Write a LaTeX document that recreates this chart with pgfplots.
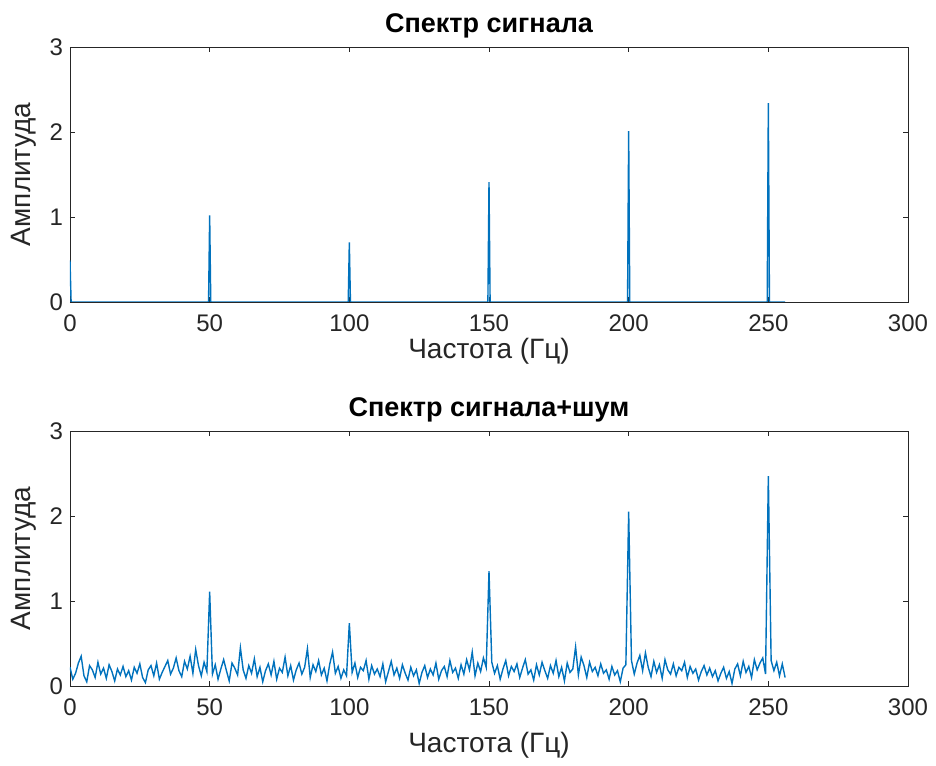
\documentclass[border=0pt]{standalone}
\usepackage{pgfplots}
\pgfplotsset{compat=1.18}
\usepackage{fontspec}
\setmainfont{Liberation Sans}
\definecolor{mblue}{RGB}{0,114,189}
\definecolor{axgray}{RGB}{38,38,38}

\pgfplotsset{spec/.style={
    width=419pt, height=127.5pt, scale only axis,
    xmin=0, xmax=300, ymin=0, ymax=3,
    xtick={0,50,...,300}, ytick={0,1,2,3},
    tick align=inside, major tick length=2.5pt,
    axis line style={axgray}, tick style={axgray},
    ticklabel style={font=\fontsize{12}{14}\selectfont, text=axgray},
    xticklabel style={yshift=-3pt},
    /pgf/number format/assume math mode=true,
    xlabel={Частота (Гц)}, ylabel={Амплитуда},
    label style={font=\fontsize{14}{16}\selectfont, text=axgray},
    title style={font=\bfseries\fontsize{13.5}{15}\selectfont, yshift=-5pt},
}}

\begin{document}
\begin{tikzpicture}
\useasboundingbox (-35pt,-231.5pt) rectangle (433pt,151pt);
\begin{axis}[spec, title={Спектр сигнала}, xlabel style={yshift=4pt}]
\addplot[mblue, line width=0.7pt] coordinates {
 (0,0.49) (0.4,0) (49.6,0) (50,1.02) (50.4,0) (99.6,0) (100,0.70) (100.4,0)
 (149.6,0) (150,1.41) (150.4,0) (199.6,0) (200,2.01) (200.4,0)
 (249.6,0) (250,2.34) (250.4,0) (256,0)
};
\end{axis}
\begin{axis}[spec, yshift=-192pt, title={Спектр сигнала+шум}, xlabel style={yshift=-1pt}]
% 1 Hz bins, 0..256 Hz
\addplot[mblue, line width=0.7pt] coordinates {
(0,0.22)(1,0.08)(2,0.15)(3,0.27)(4,0.35)(5,0.12)(6,0.05)(7,0.24)(8,0.19)(9,0.10)
(10,0.28)(11,0.14)(12,0.21)(13,0.09)(14,0.25)(15,0.17)(16,0.06)(17,0.20)(18,0.13)(19,0.23)
(20,0.11)(21,0.18)(22,0.07)(23,0.22)(24,0.15)(25,0.26)(26,0.10)(27,0.04)(28,0.19)(29,0.24)
(30,0.12)(31,0.27)(32,0.08)(33,0.16)(34,0.23)(35,0.30)(36,0.14)(37,0.21)(38,0.33)(39,0.18)
(40,0.11)(41,0.29)(42,0.20)(43,0.35)(44,0.15)(45,0.43)(46,0.24)(47,0.12)(48,0.28)(49,0.17)
(50,1.11)(51,0.14)(52,0.25)(53,0.08)(54,0.20)(55,0.31)(56,0.18)(57,0.06)(58,0.27)(59,0.21)
(60,0.13)(61,0.45)(62,0.19)(63,0.09)(64,0.24)(65,0.15)(66,0.32)(67,0.11)(68,0.22)(69,0.05)
(70,0.18)(71,0.26)(72,0.13)(73,0.29)(74,0.08)(75,0.21)(76,0.16)(77,0.34)(78,0.12)(79,0.24)
(80,0.07)(81,0.19)(82,0.27)(83,0.14)(84,0.22)(85,0.44)(86,0.10)(87,0.25)(88,0.17)(89,0.30)
(90,0.13)(91,0.21)(92,0.06)(93,0.26)(94,0.40)(95,0.15)(96,0.23)(97,0.09)(98,0.19)(99,0.12)
(100,0.74)(101,0.16)(102,0.27)(103,0.10)(104,0.22)(105,0.18)(106,0.30)(107,0.08)(108,0.24)(109,0.14)
(110,0.20)(111,0.11)(112,0.26)(113,0.05)(114,0.17)(115,0.29)(116,0.13)(117,0.21)(118,0.09)(119,0.25)
(120,0.15)(121,0.07)(122,0.22)(123,0.12)(124,0.19)(125,0.03)(126,0.16)(127,0.24)(128,0.10)(129,0.20)
(130,0.13)(131,0.27)(132,0.08)(133,0.18)(134,0.23)(135,0.11)(136,0.30)(137,0.16)(138,0.21)(139,0.09)
(140,0.25)(141,0.14)(142,0.31)(143,0.19)(144,0.40)(145,0.12)(146,0.27)(147,0.17)(148,0.33)(149,0.22)
(150,1.35)(151,0.28)(152,0.15)(153,0.24)(154,0.08)(155,0.20)(156,0.30)(157,0.12)(158,0.23)(159,0.17)
(160,0.26)(161,0.10)(162,0.21)(163,0.31)(164,0.14)(165,0.19)(166,0.07)(167,0.25)(168,0.13)(169,0.28)
(170,0.18)(171,0.09)(172,0.24)(173,0.15)(174,0.30)(175,0.11)(176,0.22)(177,0.06)(178,0.27)(179,0.16)
(180,0.20)(181,0.46)(182,0.13)(183,0.34)(184,0.24)(185,0.10)(186,0.28)(187,0.17)(188,0.22)(189,0.12)
(190,0.26)(191,0.15)(192,0.19)(193,0.08)(194,0.23)(195,0.13)(196,0.18)(197,0.05)(198,0.21)(199,0.25)
(200,2.05)(201,0.30)(202,0.14)(203,0.27)(204,0.36)(205,0.18)(206,0.39)(207,0.22)(208,0.11)(209,0.29)
(210,0.16)(211,0.25)(212,0.09)(213,0.31)(214,0.19)(215,0.14)(216,0.26)(217,0.12)(218,0.22)(219,0.18)
(220,0.28)(221,0.10)(222,0.23)(223,0.15)(224,0.20)(225,0.07)(226,0.17)(227,0.24)(228,0.13)(229,0.21)
(230,0.11)(231,0.18)(232,0.06)(233,0.15)(234,0.22)(235,0.09)(236,0.17)(237,0.03)(238,0.20)(239,0.26)
(240,0.12)(241,0.29)(242,0.16)(243,0.23)(244,0.10)(245,0.31)(246,0.19)(247,0.27)(248,0.33)(249,0.14)
(250,2.47)(251,0.30)(252,0.18)(253,0.28)(254,0.12)(255,0.26)(256,0.10)
};
\end{axis}
\end{tikzpicture}
\end{document}
